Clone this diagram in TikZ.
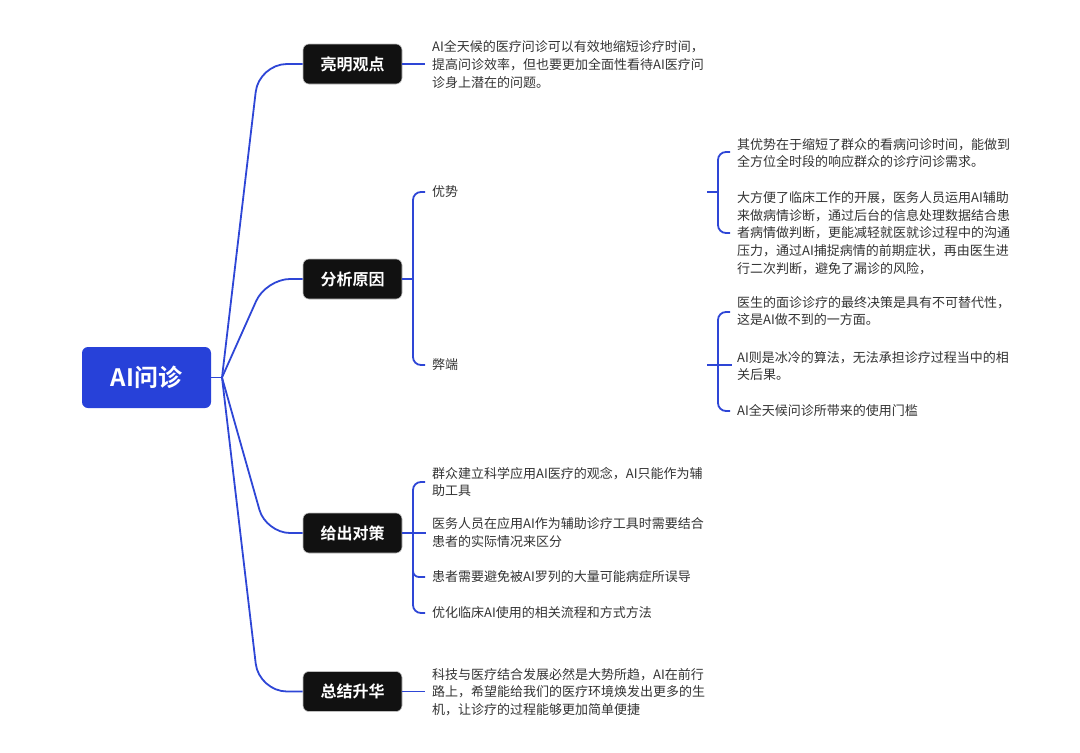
\documentclass[tikz,border=0pt]{standalone}
\usepackage{fontspec}
\newfontfamily\cjk{Noto Sans CJK SC}
\newfontfamily\cjkb{Noto Sans CJK SC Bold}
\definecolor{lineblue}{HTML}{2E46D6}
\definecolor{rootblue}{HTML}{2741D9}
\definecolor{boxblack}{HTML}{111111}
\definecolor{leafgray}{HTML}{333333}
\begin{document}
\begin{tikzpicture}[x=1pt,y=-1pt,
  conn/.style={draw=lineblue,line width=1.8pt},
  rootbox/.style={fill=rootblue,rounded corners=6pt,minimum width=129pt,minimum height=61pt,inner sep=0pt,text=white,font=\cjkb\fontsize{24}{28}\selectfont},
  branchbox/.style={fill=boxblack,draw=gray!50,line width=0.6pt,rounded corners=6pt,minimum width=99pt,minimum height=40pt,inner sep=0pt,text=white,font=\cjkb\fontsize{16}{20}\selectfont},
  leaf/.style={anchor=west,align=left,inner sep=0pt,text=leafgray,font=\cjk\fontsize{13}{17.6}\selectfont}]
\useasboundingbox (0,0) rectangle (1080,753);
% root and branches
\node[rootbox] (root) at (146.5,377.5) {AI问诊};
\node[branchbox] (b1) at (352.5,64) {亮明观点};
\node[branchbox] (b2) at (352.5,279) {分析原因};
\node[branchbox] (b3) at (352.5,533) {给出对策};
\node[branchbox] (b4) at (352.5,691.5) {总结升华};
\coordinate (rj) at (222,377.5);
\draw[conn] (root.east) -- (rj);
\draw[conn,rounded corners=28pt] (rj) -- (259,64) -- (b1.west);
\draw[conn,rounded corners=24pt] (rj) -- (266,279) -- (b2.west);
\draw[conn,rounded corners=24pt] (rj) -- (266,533) -- (b3.west);
\draw[conn,rounded corners=28pt] (rj) -- (259,691.5) -- (b4.west);
% branch 1
\node[leaf] (t1) at (432,64.5) {AI全天候的医疗问诊可以有效地缩短诊疗时间，\\提高问诊效率，但也要更加全面性看待AI医疗问\\诊身上潜在的问题。};
\draw[conn] (b1.east) -- (425,64);
% branch 2
\node[leaf] (ys) at (432,192) {优势};
\node[leaf] (bd) at (432,365) {弊端};
\draw[conn] (b2.east) -- (413,279);
\draw[conn,rounded corners=8pt] (425,192) -- (413,192) -- (413,365) -- (425,365);
% advantages
\node[leaf] (ys1) at (737,153) {其优势在于缩短了群众的看病问诊时间，能做到\\全方位全时段的响应群众的诊疗问诊需求。};
\node[leaf] (ys2) at (737,233) {大方便了临床工作的开展，医务人员运用AI辅助\\来做病情诊断，通过后台的信息处理数据结合患\\者病情做判断，更能减轻就医就诊过程中的沟通\\压力，通过AI捕捉病情的前期症状，再由医生进\\行二次判断，避免了漏诊的风险，};
\coordinate (ysj) at (707,192);
\draw[conn] (ysj) -- (718,192);
\draw[conn,rounded corners=8pt] (730,152) -- (718,152) -- (718,233) -- (730,233);
% disadvantages
\node[leaf] (bd1) at (737,311) {医生的面诊诊疗的最终决策是具有不可替代性，\\这是AI做不到的一方面。};
\node[leaf] (bd2) at (737,366) {AI则是冰冷的算法，无法承担诊疗过程当中的相\\关后果。};
\node[leaf] (bd3) at (737,411) {AI全天候问诊所带来的使用门槛};
\coordinate (bdj) at (707,365);
\draw[conn] (bdj) -- (732,365);
\draw[conn,rounded corners=8pt] (730,312) -- (718,312) -- (718,411) -- (730,411);
% branch 3
\node[leaf] (d1) at (432,482) {群众建立科学应用AI医疗的观念，AI只能作为辅\\助工具};
\node[leaf] (d2) at (432,532.5) {医务人员在应用AI作为辅助诊疗工具时需要结合\\患者的实际情况来区分};
\node[leaf] (d3) at (432,577) {患者需要避免被AI罗列的大量可能病症所误导};
\node[leaf] (d4) at (432,612.5) {优化临床AI使用的相关流程和方式方法};
\draw[conn] (b3.east) -- (426,533);
\draw[conn,rounded corners=8pt] (425,482) -- (413,482) -- (413,613) -- (425,613);
\draw[conn,rounded corners=6pt] (413,567) -- (413,577) -- (425,577);
% branch 4
\node[leaf] (t4) at (432,692) {科技与医疗结合发展必然是大势所趋，AI在前行\\路上，希望能给我们的医疗环境焕发出更多的生\\机，让诊疗的过程能够更加简单便捷};
\draw[conn] (b4.east) -- (425,691.5);
\end{tikzpicture}
\end{document}
